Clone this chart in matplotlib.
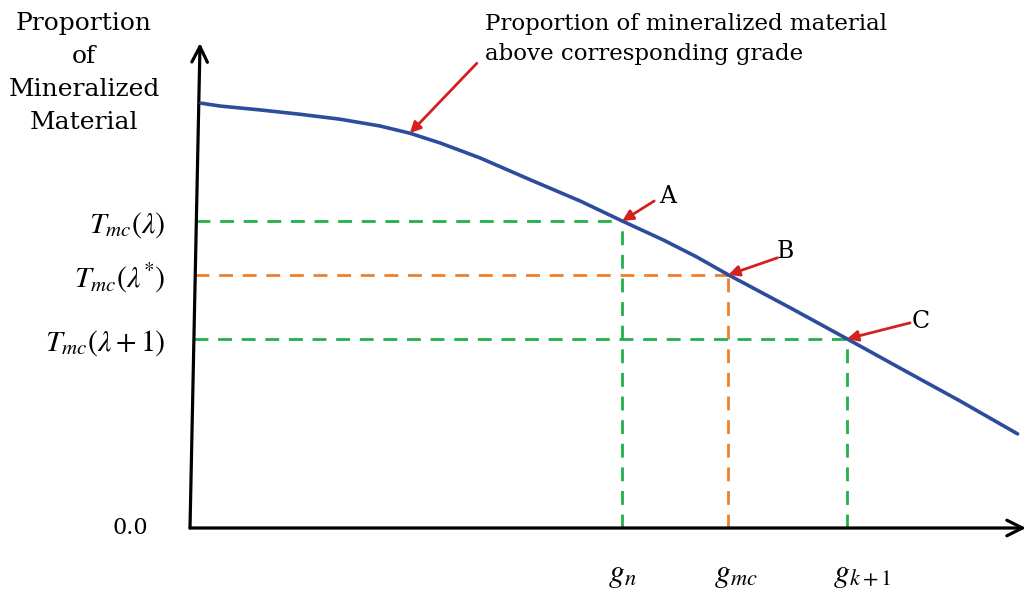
import matplotlib.pyplot as plt

plt.rcParams['mathtext.fontset'] = 'stix'
plt.rcParams['font.family'] = 'DejaVu Serif'

# grade-tonnage curve (normalised grade vs. proportion above that grade)
grade = [0.013, 0.036, 0.084, 0.132, 0.179, 0.227, 0.263, 0.299, 0.347, 0.407,
         0.467, 0.517, 0.566, 0.606, 0.644, 0.718, 0.786, 0.849, 0.921, 0.990]
proportion = [0.876, 0.870, 0.862, 0.853, 0.843, 0.829, 0.814, 0.794, 0.763, 0.718,
              0.674, 0.633, 0.594, 0.559, 0.522, 0.454, 0.390, 0.330, 0.262, 0.194]

# marked points on the curve: A, B, C
point_names = ['A', 'B', 'C']
point_index = [11, 14, 16]
grade_labels = [r'$g_n$', r'$g_{mc}$', r'$g_{k+1}$']
tonnage_labels = [r'$T_{mc}(\lambda)$', r'$T_{mc}(\lambda^{*})$', r'$T_{mc}(\lambda+1)$']
guide_colors = ['#22b04b', '#f0802a', '#22b04b']

# arrow tail / letter offsets in pixels from each point
arrow_tails = [(32, 20), (49, 17), (63, 16)]
letter_offsets = [(45, 24), (57, 23), (74, 17)]

curve_color = '#2c4c9c'
arrow_color = '#d42020'

fig = plt.figure(figsize=(10.28, 5.99), dpi=100)
ax = fig.add_axes([190 / 1028, 71 / 599, 836 / 1028, 485 / 599])
ax.set_xlim(0, 1)
ax.set_ylim(0, 1)
ax.axis('off')

# y axis leans slightly to the right
lean = 0.012

def axis_x(y):
    return lean * y

# axes with open arrowheads
ax.annotate('', xy=(lean, 1.0), xytext=(0, 0),
            arrowprops=dict(arrowstyle='->', lw=2.3, color='black', mutation_scale=28,
                            shrinkA=0, shrinkB=0), annotation_clip=False)
ax.annotate('', xy=(1.0, 0), xytext=(0, 0),
            arrowprops=dict(arrowstyle='->', lw=2.3, color='black', mutation_scale=28,
                            shrinkA=0, shrinkB=0), annotation_clip=False)

# dashed guide lines
for idx, col in zip(point_index, guide_colors):
    gx, py = grade[idx], proportion[idx]
    ax.plot([axis_x(py), gx], [py, py], color=col, lw=2.0, dashes=(5, 3.5))
    ax.plot([gx, gx], [0, py], color=col, lw=2.0, dashes=(5, 3.5))

ax.plot(grade, proportion, color=curve_color, lw=2.6, solid_capstyle='round',
        solid_joinstyle='round', zorder=5)

# labels on the y side
for idx, lab in zip(point_index, tonnage_labels):
    ax.annotate(lab, xy=(0, proportion[idx]), xytext=(-24, -4), textcoords='offset pixels',
                ha='right', va='center', fontsize=21.5, annotation_clip=False)

ax.annotate('0.0', xy=(0, 0), xytext=(-60, 0), textcoords='offset pixels',
            ha='center', va='center', fontsize=16, annotation_clip=False)

# labels under the x axis
for idx, lab in zip(point_index, grade_labels):
    ax.annotate(lab, xy=(grade[idx], 0), xytext=(-14, -46), textcoords='offset pixels',
                ha='left', va='center', fontsize=23, annotation_clip=False)

# red arrows pointing at A, B, C
for idx, name, tail, loff in zip(point_index, point_names, arrow_tails, letter_offsets):
    xy = (grade[idx], proportion[idx])
    ax.annotate('', xy=xy, xytext=tail, textcoords='offset pixels',
                arrowprops=dict(arrowstyle='-|>', lw=2.0, color=arrow_color,
                                mutation_scale=16, shrinkA=0, shrinkB=0), zorder=6)
    ax.annotate(name, xy=xy, xytext=loff, textcoords='offset pixels',
                ha='center', va='center', fontsize=17)

# arrow to the curve with its description
curve_xy = (grade[6], proportion[6])
ax.annotate('', xy=curve_xy, xytext=(67, 70), textcoords='offset pixels',
            arrowprops=dict(arrowstyle='-|>', lw=2.0, color=arrow_color,
                            mutation_scale=16, shrinkA=0, shrinkB=0), zorder=6)
ax.annotate('Proportion of mineralized material\nabove corresponding grade',
            xy=curve_xy, xytext=(75, 94), textcoords='offset pixels',
            ha='left', va='center', fontsize=16.5, linespacing=1.5,
            annotation_clip=False)

# y axis title
fig.text(84 / 1028, 1 - 73 / 599, 'Proportion\nof\nMineralized\nMaterial',
         ha='center', va='center', fontsize=18, linespacing=1.55)

fig.savefig('out.png', dpi=100, facecolor='white')
